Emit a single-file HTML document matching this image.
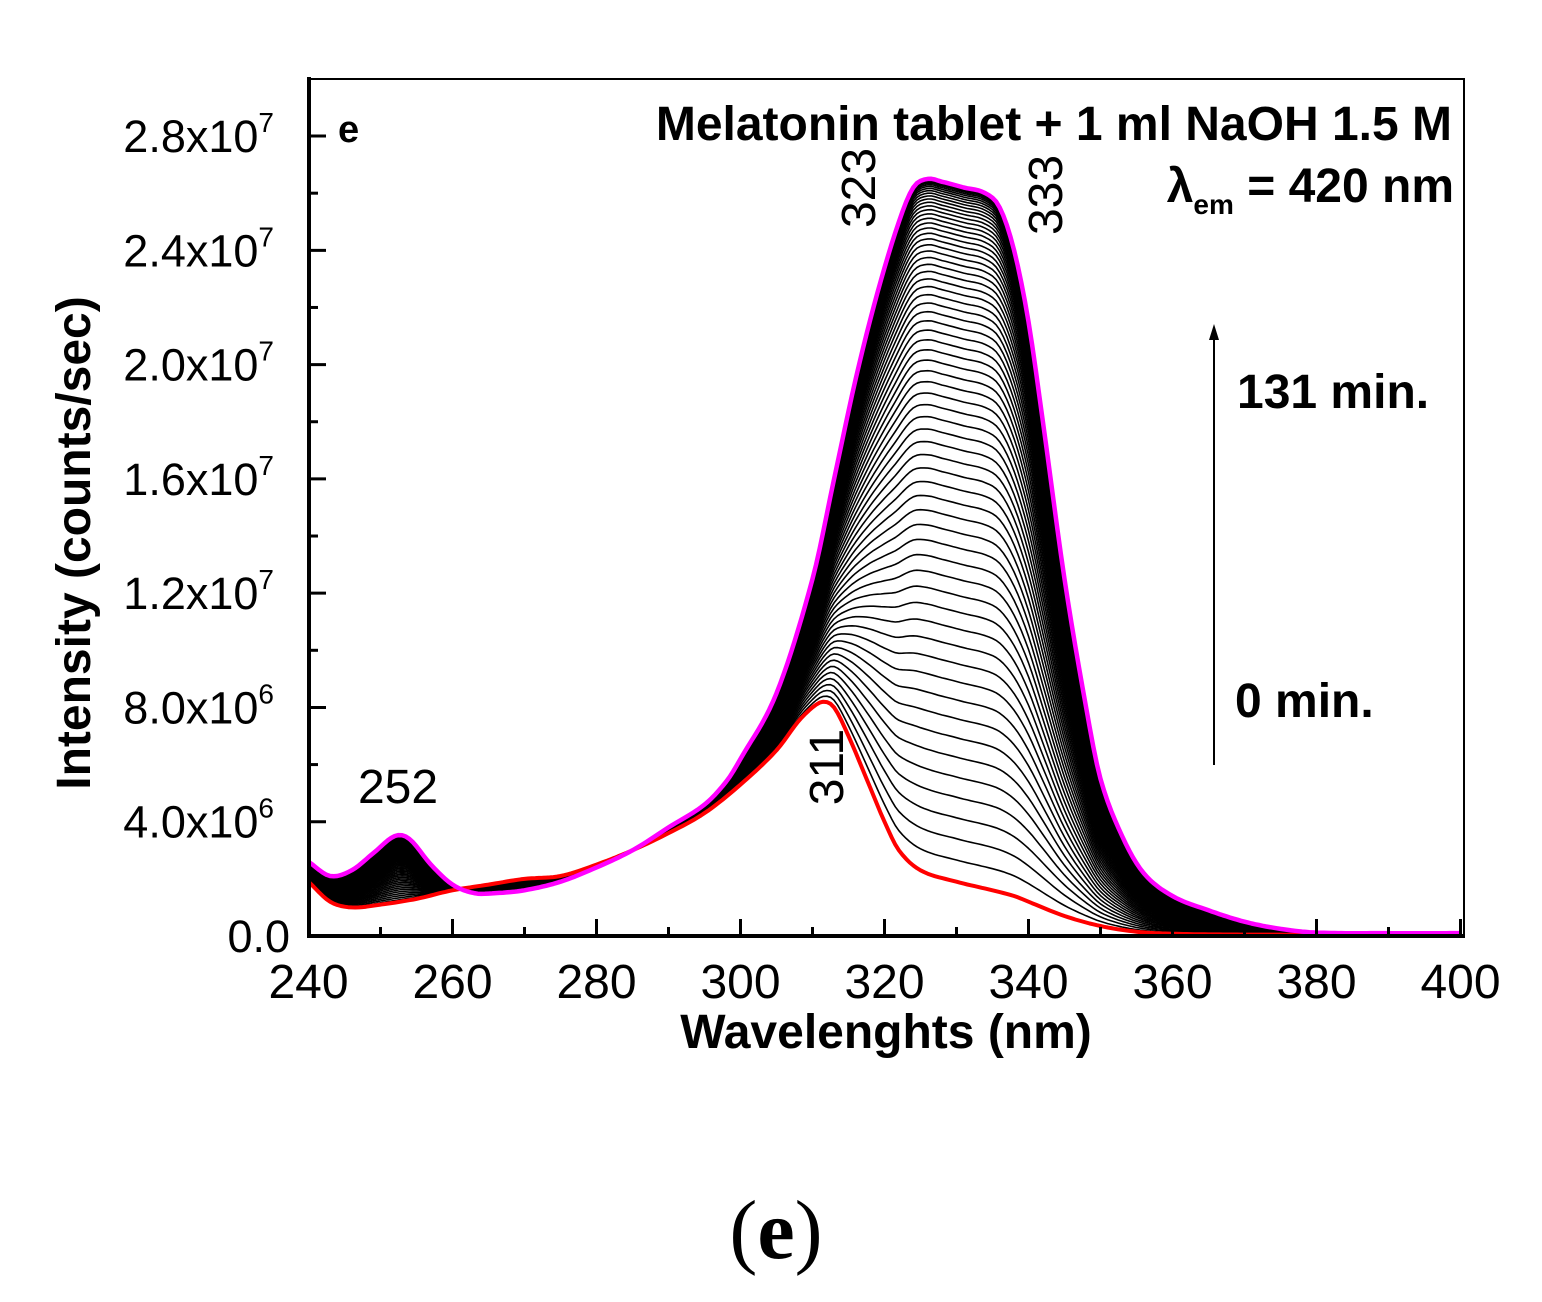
<!DOCTYPE html>
<html><head><meta charset="utf-8"><style>
body{margin:0;background:#fff}
svg{display:block}
text{font-family:"Liberation Sans",Arial,sans-serif;fill:#000}
</style></head><body>
<svg id="s" width="1542" height="1302" viewBox="0 0 1542 1302" xmlns="http://www.w3.org/2000/svg">
<g id="curves"></g>
<rect x="309" y="79" width="1155" height="857" fill="none" stroke="#000" stroke-width="2"/>
<line x1="309" y1="77" x2="309" y2="938" stroke="#000" stroke-width="4"/>
<line x1="307" y1="936" x2="1465" y2="936" stroke="#000" stroke-width="4"/>
<g id="ticks" stroke="#000" stroke-width="3"></g>
<g font-size="45" text-anchor="end" id="ylab"></g>
<g font-size="48" text-anchor="middle" id="xlab"></g>
<text x="886" y="1048" font-size="48" font-weight="bold" text-anchor="middle">Wavelenghts (nm)</text>
<text transform="translate(90,543) rotate(-90)" font-size="48" font-weight="bold" text-anchor="middle">Intensity (counts/sec)</text>
<text x="338" y="142" font-size="38" font-weight="bold">e</text>
<text x="1452" y="140" font-size="48" font-weight="bold" text-anchor="end">Melatonin tablet + 1 ml NaOH 1.5 M</text>
<text x="1454" y="202" font-size="48" font-weight="bold" text-anchor="end">λ<tspan font-size="28" dy="12">em</tspan><tspan dy="-12"> = 420 nm</tspan></text>
<line x1="1214" y1="765" x2="1214" y2="335" stroke="#000" stroke-width="2"/>
<polygon points="1214,324 1209,340 1219,340" fill="#000"/>
<text x="1237" y="408" font-size="48" font-weight="bold">131 min.</text>
<text x="1235" y="717" font-size="48" font-weight="bold">0 min.</text>
<text x="398" y="803" font-size="48" text-anchor="middle">252</text>
<text transform="translate(875,188) rotate(-90)" font-size="48" text-anchor="middle">323</text>
<text transform="translate(1062,195) rotate(-90)" font-size="48" text-anchor="middle">333</text>
<text transform="translate(843,767) rotate(-90)" font-size="48" text-anchor="middle">311</text>
<text x="776" y="1258" font-size="84" text-anchor="middle" style="font-family:'Liberation Serif',serif">(<tspan font-weight="bold">e</tspan>)</text>
</svg>
<script>
var NS="http://www.w3.org/2000/svg";
function X(w){return 308.5+(w-240)*7.2;}
function Y(v){return 936-v*28.57;}
var red=[[240,1.9],[243,1.2],[246,1.0],[250,1.1],[255,1.3],[260,1.6],[265,1.8],[270,2.0],[275,2.1],[280,2.5],[285,3.0],[290,3.6],[295,4.3],[300,5.3],[305,6.5],[308,7.5],[310,8.0],[311.5,8.2],[313,8.0],[315,7.0],[318,5.2],[320,4.0],[322,3.0],[325,2.3],[330,1.9],[335,1.6],[338,1.4],[340,1.2],[345,0.7],[350,0.35],[355,0.15],[360,0.08],[370,0.05],[400,0.05]];
var mag=[[240,2.6],[243,2.1],[246,2.3],[249,2.9],[252,3.5],[254,3.4],[257,2.5],[260,1.8],[263,1.5],[266,1.5],[270,1.6],[275,1.9],[280,2.4],[285,3.0],[290,3.8],[295,4.6],[298,5.4],[300,6.2],[305,8.5],[310,12.5],[313,16],[316,19.5],[319,22.5],[322,25],[324,26.2],[326,26.5],[328,26.4],[331,26.2],[334,26.0],[336,25.5],[338,24],[340,21.5],[342,18],[345,12.5],[348,8],[350,5.5],[353,3.5],[356,2.2],[360,1.4],[365,0.9],[370,0.5],[375,0.25],[380,0.12],[390,0.1],[400,0.1]];
function interp(a,w){for(var i=0;i<a.length-1;i++){if(w<=a[i+1][0]){
 var p0=a[Math.max(i-1,0)],p1=a[i],p2=a[i+1],p3=a[Math.min(i+2,a.length-1)];
 var h=p2[0]-p1[0],t=(w-p1[0])/h;
 var m1=(p2[1]-p0[1])/(p2[0]-p0[0]||1)*h, m2=(p3[1]-p1[1])/(p3[0]-p1[0]||1)*h;
 var t2=t*t,t3=t2*t;
 return (2*t3-3*t2+1)*p1[1]+(t3-2*t2+t)*m1+(-2*t3+3*t2)*p2[1]+(t3-t2)*m2;}}return a[a.length-1][1];}
function path(f){var d="";for(var w=240;w<=400;w+=0.5){d+=(w==240?"M":"L")+X(w).toFixed(1)+","+Y(f(w)).toFixed(1);}return d;}
var g=document.getElementById("curves");
function add(d,c,sw){var p=document.createElementNS(NS,"path");p.setAttribute("d",d);p.setAttribute("fill","none");p.setAttribute("stroke",c);p.setAttribute("stroke-width",sw);p.setAttribute("stroke-linejoin","round");g.appendChild(p);}
var N=70;
for(var k=1;k<N;k++){var s=k/N;var f=1-Math.pow(1-s,2.2);
 add(path(function(w){var r=interp(red,w),m=interp(mag,w);return r+f*(m-r);}),"#000",1.6);}
add(path(function(w){return interp(red,w);}),"#f00",4);
add(path(function(w){return interp(mag,w);}),"#f0f",4.5);
var t=document.getElementById("ticks"),yl=document.getElementById("ylab"),xl=document.getElementById("xlab");
function ln(x1,y1,x2,y2){var l=document.createElementNS(NS,"line");l.setAttribute("x1",x1);l.setAttribute("y1",y1);l.setAttribute("x2",x2);l.setAttribute("y2",y2);t.appendChild(l);}
function tx(par,x,y,html){var e=document.createElementNS(NS,"text");e.setAttribute("x",x);e.setAttribute("y",y);e.innerHTML=html;par.appendChild(e);}
var labs=["0.0","4.0x10<tspan font-size='28' dy='-20'>6</tspan>","8.0x10<tspan font-size='28' dy='-20'>6</tspan>","1.2x10<tspan font-size='28' dy='-20'>7</tspan>","1.6x10<tspan font-size='28' dy='-20'>7</tspan>","2.0x10<tspan font-size='28' dy='-20'>7</tspan>","2.4x10<tspan font-size='28' dy='-20'>7</tspan>","2.8x10<tspan font-size='28' dy='-20'>7</tspan>"];
for(var i=0;i<=14;i++){var y=Y(i*2);ln(309,y,i%2?318:326,y);}
for(var i=0;i<8;i++){tx(yl,i==0?290:274,Y(i*4)+16,labs[i]);}
for(var w=240;w<=400;w+=10){var x=X(w);ln(x,936,x,(w%20)?927:919);}
for(var w=240;w<=400;w+=20){tx(xl,X(w),998,String(w));}
</script>
</body></html>
